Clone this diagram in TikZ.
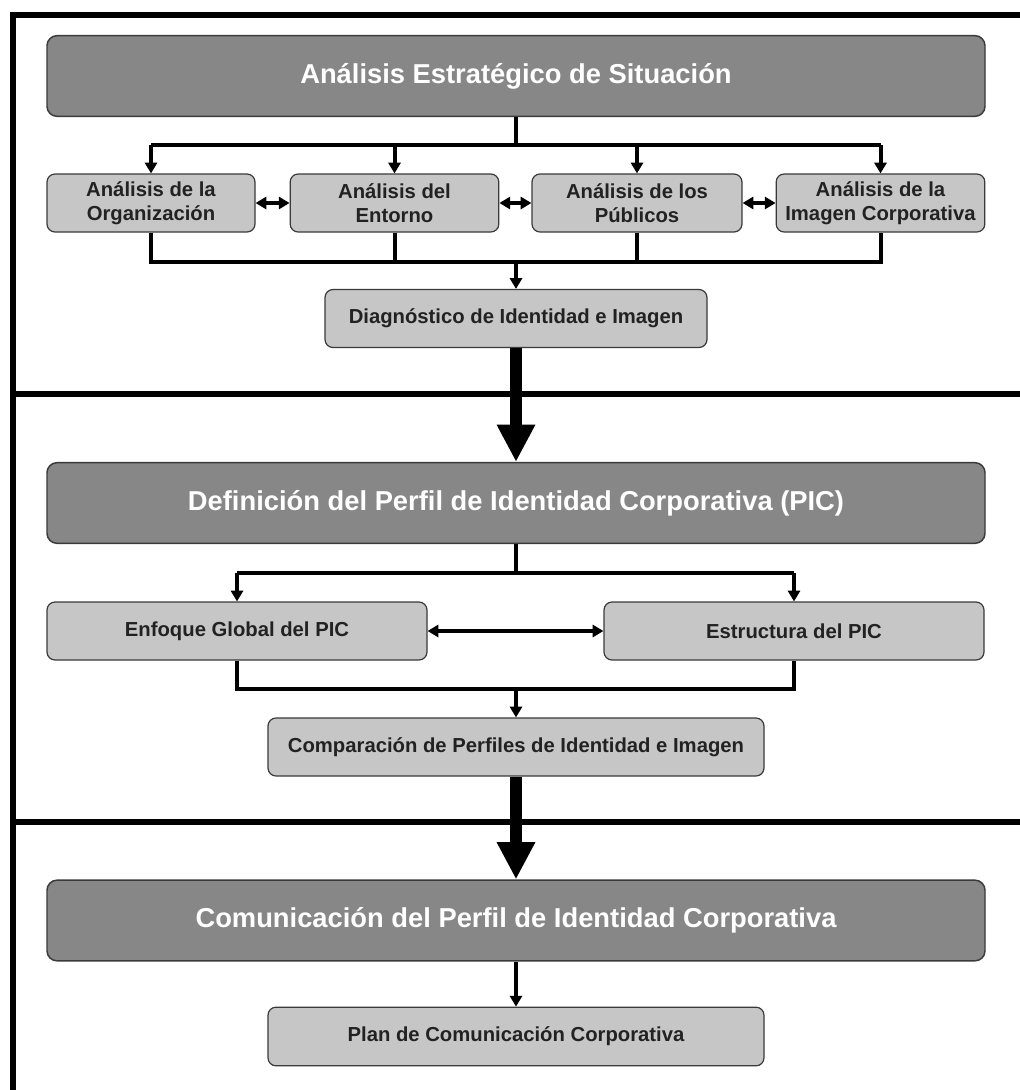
\documentclass[tikz,border=0pt]{standalone}
\usepackage{fontspec}
\setmainfont{Liberation Sans}
\usetikzlibrary{positioning, arrows.meta}

\definecolor{headgray}{HTML}{878787}
\definecolor{boxgray}{HTML}{C6C6C6}
\definecolor{edgegray}{HTML}{3A3A3A}
\definecolor{inkgray}{HTML}{222222}

\begin{document}
\begin{tikzpicture}[x=0.75pt, y=-0.75pt,
    head/.style={draw=edgegray, line width=1.1pt, fill=headgray, rounded corners=7.5pt,
        minimum width=703.5pt, minimum height=60.5pt, inner sep=0pt, text=white,
        font=\fontsize{20.5}{24}\selectfont\bfseries},
    sub/.style={draw=edgegray, line width=0.9pt, fill=boxgray, rounded corners=6pt,
        minimum height=43.5pt, inner sep=0pt, align=center, text=inkgray,
        font=\fontsize{15.2}{18}\selectfont\bfseries},
    frame/.style={line width=4.6pt},
    conn/.style={line width=3pt},
    arr/.style={line width=3pt, -{Triangle[length=8pt,width=9pt]}},
    dbl/.style={line width=3pt, {Triangle[length=8pt,width=9pt]}-{Triangle[length=8pt,width=9pt]}},
    big/.style={line width=9pt, -{Triangle[length=28pt,width=27pt]}}]

    \useasboundingbox (0,0) rectangle (1020,1090);

    % Frame and separators
    \draw[frame] (13,1090) -- (13,15) -- (1020,15);
    \draw[frame] (13,394) -- (1020,394);
    \draw[frame] (13,822) -- (1020,822);

    % Analisis
    \node[head] (sit) at (516,76) {Análisis Estratégico de Situación};
    \node[sub, minimum width=156pt] (org) at (151,203) {Análisis de la\\Organización};
    \node[sub, minimum width=156.5pt] (ent) at (394.5,203) {Análisis del\\Entorno};
    \node[sub, minimum width=157.5pt] (pub) at (637,203) {Análisis de los\\Públicos};
    \node[sub, minimum width=156.5pt] (img) at (880.5,203) {Análisis de la\\Imagen Corporativa};
    \node[sub, minimum width=286.5pt] (diag) at (516,318.5) {Diagnóstico de Identidad e Imagen};

    \coordinate (top1) at (516,145);
    \coordinate (bot1) at (516,262);
    \draw[conn] (sit) -- (top1);
    \draw[conn] (org.north |- top1) -- (img.north |- top1);
    \foreach \n in {org,ent,pub,img}
        \draw[arr] (\n.north |- top1) -- (\n.north);
    \draw[conn] (org.south) -- (org.south |- bot1) -- (img.south |- bot1) -- (img.south);
    \draw[conn] (ent.south) -- (ent.south |- bot1);
    \draw[conn] (pub.south) -- (pub.south |- bot1);
    \draw[arr] (bot1) -- (diag);
    \draw[dbl] (org) -- (ent);
    \draw[dbl] (ent) -- (pub);
    \draw[dbl] (pub) -- (img);

    % Perfil
    \node[head] (pic) at (516,503) {Definición del Perfil de Identidad Corporativa (PIC)};
    \node[sub, minimum width=285pt] (enf) at (237,631) {Enfoque Global del PIC};
    \node[sub, minimum width=285pt] (est) at (794,631) {Estructura del PIC};
    \node[sub, minimum width=372pt] (comp) at (516,747) {Comparación de Perfiles de Identidad e Imagen};

    \coordinate (top2) at (516,573);
    \coordinate (bot2) at (516,689);
    \draw[big] (diag) -- (pic);
    \draw[conn] (pic) -- (top2);
    \draw[conn] (enf.north |- top2) -- (est.north |- top2);
    \draw[arr] (enf.north |- top2) -- (enf.north);
    \draw[arr] (est.north |- top2) -- (est.north);
    \draw[conn] (enf.south) -- (enf.south |- bot2) -- (est.south |- bot2) -- (est.south);
    \draw[arr] (bot2) -- (comp);
    \draw[dbl] (enf) -- (est);

    % Comunicacion
    \node[head] (com) at (516,920.5) {Comunicación del Perfil de Identidad Corporativa};
    \node[sub, minimum width=372pt, minimum height=44pt] (plan) at (516,1036.5) {Plan de Comunicación Corporativa};

    \draw[big] (comp) -- (com);
    \draw[arr] (com) -- (plan);

\end{tikzpicture}
\end{document}
